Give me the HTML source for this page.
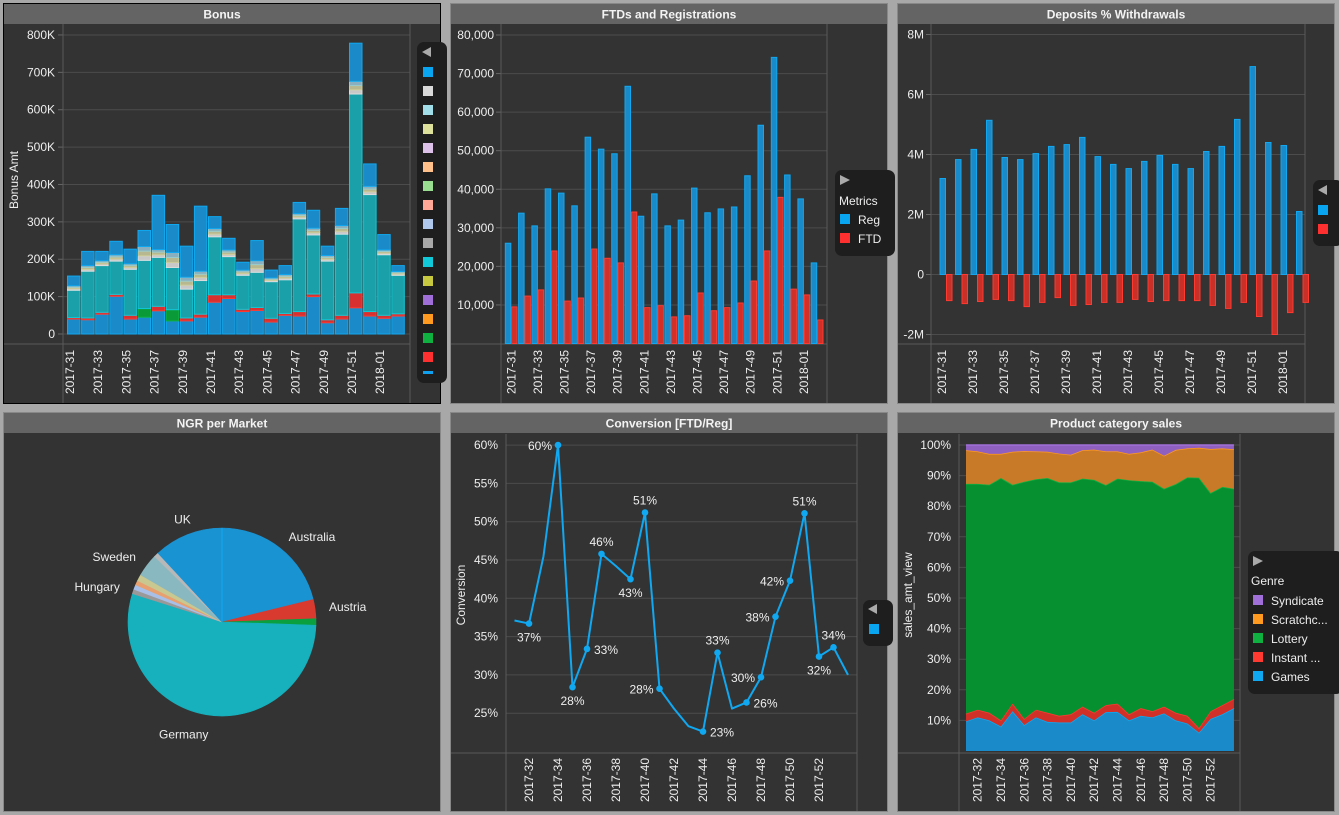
<!DOCTYPE html>
<html><head><meta charset="utf-8">
<style>
html,body{margin:0;padding:0;background:#a8a8a8;}
svg{display:block;font-family:"Liberation Sans","DejaVu Sans",sans-serif;}
text{fill:#eeeeee;font-size:12px;}
.ttl{font-weight:bold;font-size:12px;fill:#f4f4f4;}
</style></head>
<body>
<svg id="root" width="1339" height="815" viewBox="0 0 1339 815">
<rect x="0" y="0" width="1339" height="815" fill="#a8a8a8"/>
</svg>
<script>
const NS='http://www.w3.org/2000/svg';
const root=document.getElementById('root');
function mk(tag,attrs,parent,txt){const e=document.createElementNS(NS,tag);for(const k in attrs)e.setAttribute(k,attrs[k]);if(txt!==undefined)e.textContent=txt;(parent||root).appendChild(e);return e;}

/* ---------- DATA ---------- */
const weeks=['2017-31','2017-32','2017-33','2017-34','2017-35','2017-36','2017-37','2017-38','2017-39','2017-40','2017-41','2017-42','2017-43','2017-44','2017-45','2017-46','2017-47','2017-48','2017-49','2017-50','2017-51','2017-52','2018-01','2018-02'];
// Bonus (K)
const bonusBase=[40,38,53,101,40,45,62,35,35,45,85,95,60,63,32,50,48,100,30,40,70,48,42,48];
const bonusAccent=[4,5,5,5,10,23,12,30,8,8,20,10,6,8,10,5,12,7,8,10,40,12,8,6];
const bonusTeal=[73,125,125,89,123,129,131,113,77,90,155,102,91,94,98,90,248,158,157,217,532,313,162,103];
const bonusMisc=[12,15,13,17,15,37,21,40,32,25,22,18,14,31,10,14,14,18,15,23,34,22,13,10];
const bonusTop=[26,38,25,36,39,43,145,75,83,174,32,31,21,54,21,24,30,48,25,46,102,60,41,16];
const bonusTicks=[0,100,200,300,400,500,600,700,800];
// FTDs & Registrations
const regValues=[26000,33800,30500,40100,39000,35700,53500,50400,49200,66700,33000,38800,30500,32000,40300,33900,34900,35400,43500,56600,74200,43700,37500,20900];
const ftdValues=[9500,12300,13900,24000,11000,11800,24500,22100,20900,34100,9300,9800,6900,7200,13100,8500,9300,10500,16200,24000,37900,14100,12600,6100];
const regTicks=[10000,20000,30000,40000,50000,60000,70000,80000];
// Deposits / Withdrawals (M)
const depositValues=[3.2,3.83,4.17,5.14,3.9,3.83,4.03,4.27,4.33,4.57,3.93,3.67,3.53,3.77,3.97,3.67,3.53,4.1,4.27,5.17,6.93,4.4,4.3,2.1];
const withdrawValues=[-0.87,-0.97,-0.9,-0.83,-0.87,-1.07,-0.93,-0.77,-1.03,-1.0,-0.93,-0.93,-0.83,-0.9,-0.87,-0.87,-0.87,-1.03,-1.13,-0.93,-1.4,-2.0,-1.27,-0.93];
const depTicks=[-2,0,2,4,6,8];
// NGR per market (%)
const marketNames=['Australia','Austria','','Germany','Hungary','','','','Sweden','','UK'];
const marketValues=[21.1,3.3,1.1,54.2,0.8,0.8,0.8,1.1,3.9,0.8,11.9];
// Conversion (%)
const convValues=[37.1,36.7,45.5,60,28.4,33.4,45.8,44.2,42.5,51.2,28.2,25.6,23.3,22.6,32.9,25.6,26.4,29.7,37.6,42.3,51.1,32.4,33.6,30];
const convLabelPos=['','b','','l','b','r','t','','b','t','l','','','r','t','','r','l','l','l','t','b','t',''];
const convTicks=[25,30,35,40,45,50,55,60];
// Product category sales (%)
const genreNames=['Games','Instant ...','Lottery','Scratchc...','Syndicate'];
const gamesShare=[9.7,11,10,8,13,8.5,11,9.5,9.3,9.3,12,10,12.7,12.8,10,11.5,11,12.3,10,9,6,10.5,12,14];
const instantShare=[2.5,2.5,2.5,2,2.5,2,2.5,3,2.2,2.7,2.5,2.5,2.3,2.7,2,2.5,2,2.2,2.5,2.5,1.5,2.5,3,3];
const lotteryShare=[75.1,73.8,74.5,79.2,71.5,77.5,75.3,76.7,76.3,75.8,74.5,76.1,71.9,73.5,76.5,74.2,75,71.2,74.7,77.9,81.8,71.3,71.3,68.7];
const scratchShare=[11,10.6,10.1,7.9,10.8,10,9.1,8.6,9.4,9,9.3,9.9,11,8.9,8.6,9.4,10.5,10.8,11.2,9.5,9.8,14.4,12.6,12.9];
const syndicateShare=[1.7,2.1,2.9,2.9,2.2,2,2.1,2.2,2.8,3.2,1.7,1.5,2.1,2.1,2.9,2.4,1.5,3.5,1.6,1.1,0.9,1.3,1.1,1.4];
const pctTicks=[10,20,30,40,50,60,70,80,90,100];

/* ---------- PANEL FRAMES ---------- */
function panel(x,y,w,h,title,name,sel){
  const g=mk('g',{});
  
  
  mk('rect',{x:x,y:y,width:w,height:h,fill:'#333333',stroke:sel?'#000':'#888','stroke-width':1},g);
  mk('rect',{x:x+0.5,y:y+0.5,width:w-1,height:20,fill:'#646464'},g);
  const t=mk('text',{x:x+w/2,y:y+15,'text-anchor':'middle',class:'ttl'},g,title);
  
  
  return g;
}
function line(x1,y1,x2,y2,c,g,w){return mk('line',{x1:x1,y1:y1,x2:x2,y2:y2,stroke:c,'stroke-width':w||1},g);}
function xLabel(g,x,yTop,txt){const t=mk('text',{transform:'translate('+(x+4)+','+yTop+') rotate(-90)','text-anchor':'end'},g,txt);return t;}

/* ===== Panel 1: Bonus ===== */
const p1=panel(3.5,3.5,437,400,'Bonus','bonus-panel',true);
const b_y=v=>334-v*0.3738;
const b_x=i=>67.5+i*14.1;
bonusTicks.forEach(v=>{line(63,b_y(v),410,b_y(v),'#4c4c4c',p1);line(58,b_y(v),63,b_y(v),'#666',p1);
  const t=mk('text',{x:55,y:b_y(v)+4,'text-anchor':'end'},p1,v===0?'0':v+'K');
  
  });
line(63,24,63,403,'#5a5a5a',p1);line(410,24,410,403,'#5a5a5a',p1);line(4,344,410,344,'#5a5a5a',p1);
const byt=mk('text',{transform:'translate(18,180) rotate(-90)','text-anchor':'middle'},p1,'Bonus Amt');


const miscCols=['#c8c8c8','#b8b890','#8ab0c0'];
weeks.forEach((w,i)=>{
  const x=b_x(i),bw=12.5;let c=0;
  const seg=(v,fill,stroke,nm)=>{const r=mk('rect',{x:x,y:b_y(c+v),width:bw,height:Math.max(0,b_y(c)-b_y(c+v)),fill:fill,stroke:stroke,'stroke-width':1},p1);
    
    
    c+=v;};
  seg(bonusBase[i],'#1a8ac8','#10a8f0','bonus-bar-base');
  seg(bonusAccent[i],i===7||i===5?'#0a9a38':'#d83030',i===7||i===5?'#10b040':'#ff3a30','bonus-bar-accent');
  seg(bonusTeal[i],'#1aa0a8','#10c8d8','bonus-bar-teal');
  const m=bonusMisc[i]/3;
  seg(m,miscCols[0],'#ddd','bonus-bar-misc');
  seg(m,miscCols[1],'#cc9','bonus-bar-misc');
  seg(m,miscCols[2],'#9cc','bonus-bar-misc');
  seg(bonusTop[i],'#1a8ac8','#10a8f0','bonus-bar-top');
  if(i%2===0){const t=xLabel(p1,x+2.5,350,w);
    
    }
});
const lg1=mk('g',{});


mk('rect',{x:417,y:42,width:30,height:341,rx:7,fill:'#1e1e1e'},lg1);
mk('path',{d:'M422 52 L431 47 L431 57 Z',fill:'#aaa'},lg1);
['#0aa5f0','#d8d8d8','#a0dde8','#dde09a','#dcc0e8','#ffc08a','#98dd90','#ffa898','#b0c8ec','#a8a8a8','#10c8d8','#c8c840','#a070d8','#ff9a20','#10b040','#ff3030','#10a0f0'].forEach((c,k)=>{
  const s=mk('rect',{x:423,y:67+k*19,width:10,height:k===16?3:10,fill:c},lg1);
  
  
});

/* ===== Panel 2: FTDs and Registrations ===== */
const p2=panel(450.5,3.5,437,400,'FTDs and Registrations','ftd-reg-panel');
const r_y=v=>343.5-v*308.5/80000;
const r_x=i=>505.3+i*13.3;
regTicks.forEach(v=>{line(501,r_y(v),827,r_y(v),'#4c4c4c',p2);line(496,r_y(v),501,r_y(v),'#666',p2);
  const t=mk('text',{x:494,y:r_y(v)+4,'text-anchor':'end'},p2,v.toLocaleString('en-US'));
  
  });
line(501,24,501,403,'#5a5a5a',p2);line(827,24,827,403,'#5a5a5a',p2);line(451,344,827,344,'#5a5a5a',p2);
weeks.forEach((w,i)=>{
  const x=r_x(i);
  const a=mk('rect',{x:x,y:r_y(regValues[i]),width:5.5,height:r_y(0)-r_y(regValues[i]),fill:'#1a8ac8',stroke:'#10a8f0'},p2);
  
  
  const b=mk('rect',{x:x+6.3,y:r_y(ftdValues[i]),width:5.5,height:r_y(0)-r_y(ftdValues[i]),fill:'#d03028',stroke:'#ff3a30'},p2);
  
  
  if(i%2===0){const t=xLabel(p2,x+6,350,w);
    
    }
});
const lg2=mk('g',{});


mk('rect',{x:835,y:170,width:60,height:86,rx:7,fill:'#1e1e1e'},lg2);
mk('path',{d:'M840 175 L850 180 L840 185 Z',fill:'#aaa'},lg2);
mk('text',{x:839,y:205},lg2,'Metrics');
mk('rect',{x:840,y:214,width:10,height:10,fill:'#0aa5f0'},lg2);
mk('text',{x:858,y:224},lg2,'Reg');
mk('rect',{x:840,y:233,width:10,height:10,fill:'#ff3030'},lg2);
mk('text',{x:858,y:243},lg2,'FTD');

/* ===== Panel 3: Deposits % Withdrawals ===== */
const p3=panel(897.5,3.5,437,400,'Deposits % Withdrawals','deposits-panel');
const d_y=v=>274.5-v*30;
const d_x=i=>940+i*15.5;
depTicks.forEach(v=>{line(931,d_y(v),1305,d_y(v),'#4c4c4c',p3);line(926,d_y(v),931,d_y(v),'#666',p3);
  const t=mk('text',{x:924,y:d_y(v)+4,'text-anchor':'end'},p3,v===0?'0':v+'M');
  
  });
line(931,24,931,403,'#5a5a5a',p3);line(1305,24,1305,403,'#5a5a5a',p3);line(898,344,1305,344,'#5a5a5a',p3);
weeks.forEach((w,i)=>{
  const x=d_x(i);
  const a=mk('rect',{x:x,y:d_y(depositValues[i]),width:5.5,height:d_y(0)-d_y(depositValues[i]),fill:'#1a8ac8',stroke:'#10a8f0'},p3);
  
  
  const b=mk('rect',{x:x+6.5,y:d_y(0),width:5.5,height:d_y(withdrawValues[i])-d_y(0),fill:'#c83028',stroke:'#ff3a30'},p3);
  
  
  if(i%2===0){const t=xLabel(p3,x+2,350,w);
    
    }
});
const lg3=mk('g',{});


mk('rect',{x:1313,y:180,width:30,height:66,rx:7,fill:'#1e1e1e'},lg3);
mk('path',{d:'M1318 190 L1327 185 L1327 195 Z',fill:'#aaa'},lg3);
mk('rect',{x:1318,y:205,width:10,height:10,fill:'#0aa5f0'},lg3);
mk('rect',{x:1318,y:224,width:10,height:10,fill:'#ff3030'},lg3);

/* ===== Panel 4: NGR per Market ===== */
const p4=panel(3.5,412.5,437,399,'NGR per Market','ngr-panel');
const pieCols=['#1a93d3','#d83a30','#0aa040','#17b0bd','#999999','#a8c0e8','#e8a070','#c8c890','#8ab8c0','#b8b8b8','#1a93d3'];
const cx=222,cy=622,R=94;
const total=marketValues.reduce((a,b)=>a+b,0);
let ang=0;
marketValues.forEach((v,k)=>{
  const a0=ang,a1=ang+v/total*2*Math.PI;ang=a1;
  const p=(a)=>[cx+R*Math.sin(a),cy-R*Math.cos(a)];
  const s=p(a0),e=p(a1);
  const path=mk('path',{d:`M${cx} ${cy} L${s[0]} ${s[1]} A${R} ${R} 0 ${a1-a0>Math.PI?1:0} 1 ${e[0]} ${e[1]} Z`,fill:pieCols[k],stroke:pieCols[k],'stroke-width':0.6},p4);
  
  
  if(marketNames[k]){
    const m=(a0+a1)/2,rr=R+14;
    let lx=cx+rr*Math.sin(m),ly=cy-rr*Math.cos(m)+4;
    const anchor=Math.sin(m)>0.4?'start':(Math.sin(m)<-0.4?'end':'middle');
    if(anchor==='middle')ly+=Math.cos(m)<0?6:-2;
    if(anchor==='middle'&&Math.cos(m)<0)lx-=20;
    const t=mk('text',{x:lx,y:ly,'text-anchor':anchor},p4,marketNames[k]);
    
    
  }
});
line(cx,cy,cx,cy-R,'#10a8f0',p4);

/* ===== Panel 5: Conversion ===== */
const p5=panel(450.5,412.5,437,399,'Conversion [FTD/Reg]','conversion-panel');
const c_y=v=>751.5-(v-20)*7.66;
const c_x=i=>514.5+i*14.5;
convTicks.forEach(v=>{line(506,c_y(v),857,c_y(v),'#4c4c4c',p5);
  const t=mk('text',{x:498,y:c_y(v)+4,'text-anchor':'end'},p5,v+'%');
  
  });
line(506,434,506,811,'#5a5a5a',p5);line(857,434,857,811,'#5a5a5a',p5);line(451,753,857,753,'#5a5a5a',p5);
const cyt=mk('text',{transform:'translate(465,595) rotate(-90)','text-anchor':'middle'},p5,'Conversion');


const cl=mk('polyline',{points:convValues.map((v,i)=>c_x(i)+','+c_y(v)).join(' '),fill:'none',stroke:'#10a8f0','stroke-width':2,'stroke-linejoin':'round'},p5);


convValues.forEach((v,i)=>{
  const pos=convLabelPos[i];
  if(pos){
    const d=mk('circle',{cx:c_x(i),cy:c_y(v),r:3.3,fill:'#10a8f0'},p5);
    
    
    let lx=c_x(i),ly=c_y(v),an='middle';
    if(pos==='t')ly-=8;else if(pos==='b')ly+=18;else if(pos==='l'){lx-=6;ly+=5;an='end';}else{lx+=7;ly+=5;an='start';}
    const t=mk('text',{x:lx,y:ly,'text-anchor':an},p5,Math.round(v)+'%');
    
    
  }
  if(i%2===1&&i<22){const t=xLabel(p5,c_x(i),758,weeks[i]);
    
    }
});
const lg5=mk('g',{});


mk('rect',{x:863,y:600,width:30,height:46,rx:7,fill:'#1e1e1e'},lg5);
mk('path',{d:'M868 609 L877 604 L877 614 Z',fill:'#aaa'},lg5);
mk('rect',{x:869,y:624,width:10,height:10,fill:'#0aa5f0'},lg5);

/* ===== Panel 6: Product category sales ===== */
const p6=panel(897.5,412.5,437,399,'Product category sales','product-sales-panel');
const s_y=v=>751-v*3.06;
const s_x=i=>966+i*11.65;
pctTicks.forEach(v=>{line(959,s_y(v),1240,s_y(v),'#4c4c4c',p6);
  const t=mk('text',{x:951,y:s_y(v)+4,'text-anchor':'end'},p6,v+'%');
  
  });
line(959,434,959,811,'#5a5a5a',p6);line(1240,434,1240,811,'#5a5a5a',p6);line(898,753,1240,753,'#5a5a5a',p6);
const syt=mk('text',{transform:'translate(912,595) rotate(-90)','text-anchor':'middle'},p6,'sales_amt_view');


const series=[gamesShare,instantShare,lotteryShare,scratchShare,syndicateShare];
const fills=['#1a8ac8','#d03028','#079030','#c87a28','#9060c0'];
const strokes=['#10a8f0','#ff3a30','#10b040','#ff9a20','#a070d8'];
const totals=weeks.map((w,i)=>series.reduce((a,s)=>a+s[i],0));
let lower=weeks.map(()=>0);
series.forEach((s,k)=>{
  const upper=lower.map((l,i)=>l+s[i]/totals[i]*100);
  const pts=upper.map((v,i)=>s_x(i)+','+s_y(v)).concat(lower.map((v,i)=>s_x(i)+','+s_y(v)).reverse());
  const a=mk('polygon',{points:pts.join(' '),fill:fills[k]},p6);
  
  
  mk('polyline',{points:upper.map((v,i)=>s_x(i)+','+s_y(v)).join(' '),fill:'none',stroke:strokes[k],'stroke-width':1.5},p6);
  lower=upper;
});
weeks.forEach((w,i)=>{if(i%2===1&&i<22){const t=xLabel(p6,s_x(i),758,w);
  
  }});
const lg6=mk('g',{});


mk('rect',{x:1248,y:551,width:95,height:143,rx:7,fill:'#1e1e1e'},lg6);
mk('path',{d:'M1253 556 L1263 561 L1253 566 Z',fill:'#aaa'},lg6);
mk('text',{x:1251,y:585},lg6,'Genre');
[4,3,2,1,0].forEach((k,j)=>{
  mk('rect',{x:1253,y:595+j*19,width:10,height:10,fill:strokes[k]},lg6);
  const t=mk('text',{x:1271,y:605+j*19},lg6,['Syndicate','Scratchc...','Lottery','Instant ...','Games'][j]);
  
  
});
</script>
</body></html>
